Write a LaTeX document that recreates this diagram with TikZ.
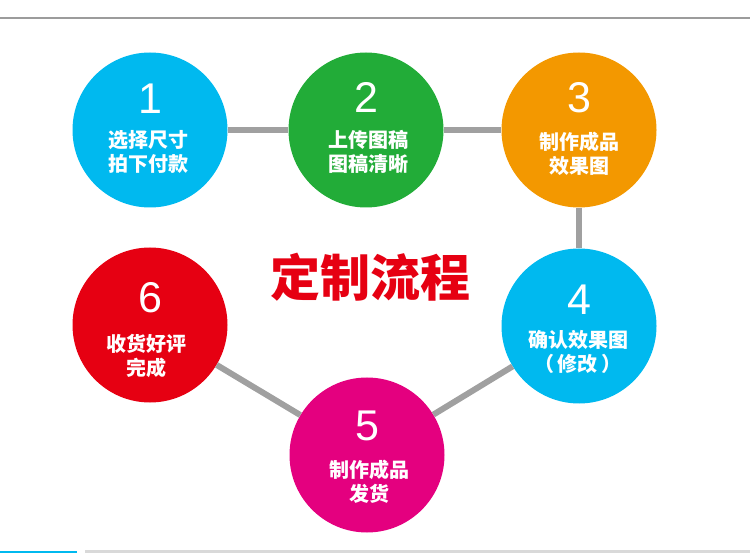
\documentclass[tikz,border=0pt]{standalone}
\usepackage{fontspec}
\setmainfont{Liberation Sans}
\newfontfamily\cjk{Noto Sans CJK SC}
\definecolor{cblue}{HTML}{00B9EF}
\definecolor{cgreen}{HTML}{22AC38}
\definecolor{corange}{HTML}{F39800}
\definecolor{cmagenta}{HTML}{E4007F}
\definecolor{cred}{HTML}{E60012}
\definecolor{linkgray}{HTML}{A0A0A0}
\definecolor{rulegray}{HTML}{9C9C9C}
\definecolor{footgray}{HTML}{D9D9D9}
\begin{document}
\begin{tikzpicture}[x=1pt,y=-1pt,
  stepdisc/.style={circle, minimum size=155pt, inner sep=0pt, fill=#1},
  num/.style={text=white, font=\fontsize{43}{43}\selectfont, inner sep=0pt},
  lab/.style={text=white, font=\cjk\bfseries\fontsize{20}{24}\selectfont, align=center, inner sep=0pt},
  link/.style={draw=linkgray, line width=6pt}]
\useasboundingbox (0,0) rectangle (750,553);
% top and bottom rules
\draw[rulegray, line width=1.8pt] (0,17.8) -- (750,17.8);
\draw[cblue, line width=1.6pt] (0,551.9) -- (77,551.9);
\draw[footgray, line width=2.4pt] (85,551.6) -- (750,551.6);
% circles
\node[stepdisc=cblue]    (c1) at (150,130) {};
\node[stepdisc=cgreen]   (c2) at (366,130) {};
\node[stepdisc=corange]  (c3) at (579,130) {};
\node[stepdisc=cblue]    (c4) at (579,326) {};
\node[stepdisc=cmagenta] (c5) at (367,455) {};
\node[stepdisc=cred]     (c6) at (150,325) {};
% connectors
\draw[link] (c1) -- (c2);
\draw[link] (c2) -- (c3);
\draw[link] (c3) -- (c4);
\draw[link] (c4) -- (c5);
\draw[link] (c5) -- (c6);
% numbers
\node[num] (n1) at (150,99) {1};
\node[num] (n2) at (366,97.5) {2};
\node[num] (n3) at (579,97.5) {3};
\node[num] (n4) at (579,300) {4};
\node[num] (n5) at (367,426) {5};
\node[num] (n6) at (150,297.5) {6};
% labels
\node[lab] (l1) at (148,151.5) {选择尺寸\\拍下付款};
\node[lab] (l2) at (368,151.5) {上传图稿\\图稿清晰};
\node[lab] (l3) at (579,154) {制作成品\\效果图};
\node[lab] (l4) at (578,351.5) {确认效果图\\（\,修改\,）};
\node[lab] (l5) at (369,481.5) {制作成品\\发货};
\node[lab] (l6) at (146,355.5) {收货好评\\完成};
% title
\node[text=cred, font=\cjk\bfseries\fontsize{50}{50}\selectfont, inner sep=0pt] (title) at (370.5,277) {定制流程};
\end{tikzpicture}
\end{document}
